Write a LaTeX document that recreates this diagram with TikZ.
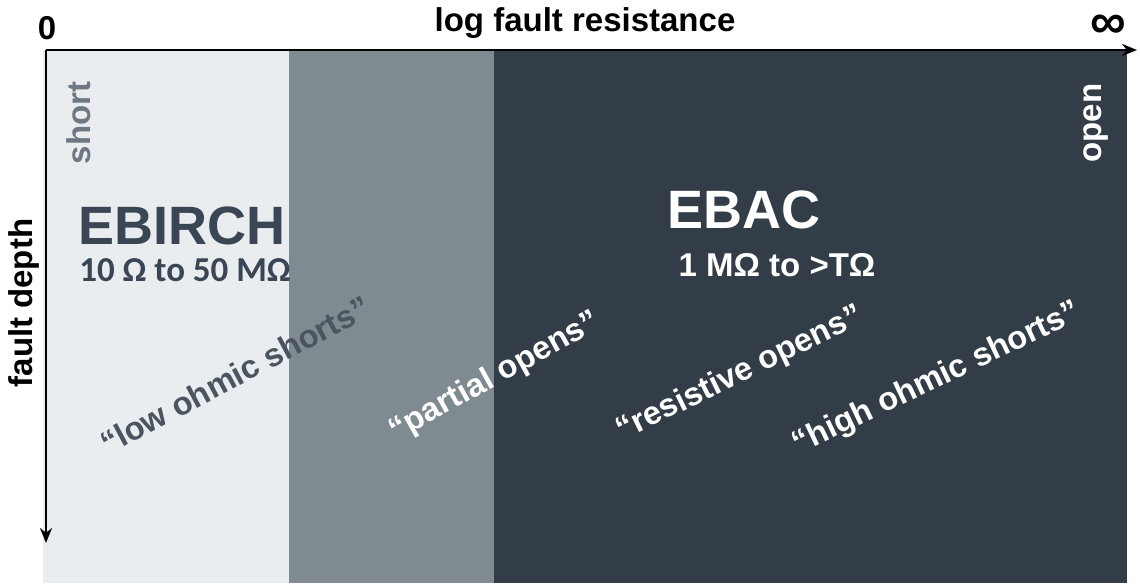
\documentclass[tikz,border=0pt]{standalone}
\usepackage{fontspec}
\setmainfont{Liberation Sans}
\newfontfamily\calfont{Carlito}
\usetikzlibrary{arrows.meta}

\definecolor{lightzone}{HTML}{E9EDF0}
\definecolor{midzone}{HTML}{808A91}
\definecolor{darkzone}{HTML}{333D47}
\definecolor{slatetext}{HTML}{3A4653}
\definecolor{shorttext}{HTML}{6E7882}
\definecolor{lowtext}{HTML}{4A5560}

\begin{document}
\begin{tikzpicture}[x=1pt,y=-1pt,
  lbl/.style={inner sep=0pt,font=\bfseries\fontsize{32.5}{32.5}\selectfont},
  axislbl/.style={inner sep=0pt,font=\bfseries\fontsize{33}{33}\selectfont},
  bigname/.style={inner sep=0pt,font=\bfseries\fontsize{54}{54}\selectfont},
  axis/.style={line width=2.6pt,-{Stealth[length=15pt,width=12pt]}}]
  \useasboundingbox (0,0) rectangle (1140,588);
  \coordinate (O) at (46,50); \coordinate (X) at (1137,50); \coordinate (Y) at (46,543);
  % resistance ranges
  \fill[lightzone] (43,50) rectangle (289,583);
  \fill[midzone] (289,50) rectangle (494,583);
  \fill[darkzone] (494,50) rectangle (1127,583);
  \draw[axis] (O)--(X);
  \draw[axis] (O)--(Y);
  \node[axislbl] (zero) at (47,28) {0};
  \node[inner sep=0pt,font=\bfseries\fontsize{50}{50}\selectfont] (inf) at (1108,27) {∞};
  \node[axislbl] (xlbl) at (585,23) {log fault resistance};
  \node[axislbl,rotate=90] (ylbl) at (24,303) {fault depth};
  \node[axislbl,rotate=90,shorttext] (short) at (79,123) {short};
  \node[axislbl,rotate=90,white] (open) at (1096,123) {open};
  \node[bigname,slatetext] (ebirch) at (182,226) {EBIRCH};
  \node[inner sep=0pt,slatetext,font=\calfont\bfseries\fontsize{35}{35}\selectfont] (ebirchrange) at (185,270) {10 Ω to 50 MΩ};
  \node[bigname,white] (ebac) at (744,210) {EBAC};
  \node[axislbl,white] (ebacrange) at (777,265) {1 MΩ to >TΩ};
  \node[lbl,lowtext,rotate=28] (low) at (235,375) {“low ohmic shorts”};
  \node[lbl,white,rotate=29] (partial) at (495,377) {“partial opens”};
  \node[lbl,white,rotate=26] (resistive) at (740,374) {“resistive opens”};
  \node[lbl,white,rotate=25.5] (high) at (937,379) {“high ohmic shorts”};
\end{tikzpicture}
\end{document}
